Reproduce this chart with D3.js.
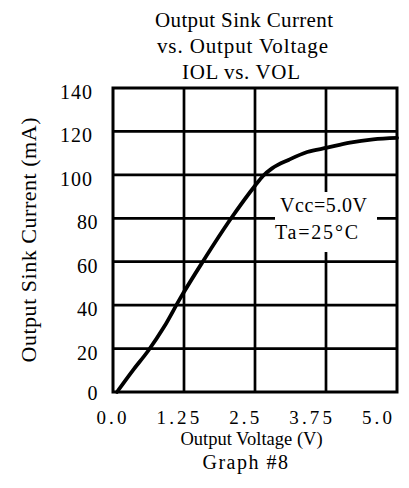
<!DOCTYPE html>
<html>
<head>
<meta charset="utf-8">
<script src="https://cdn.jsdelivr.net/npm/d3@7"></script>
<style>
  html, body { margin: 0; padding: 0; background: #fff; }
  svg { display: block; }
  text { font-family: "Liberation Serif", "Times New Roman", serif; fill: #000; }
</style>
</head>
<body>
<svg id="chart" width="409" height="488"></svg>
<script>
// ---- data ----
const voltage = [0.07, 0.35, 0.62, 0.9, 1.18, 1.58, 2.08, 2.5, 2.64, 2.8, 3.1, 3.42, 3.77, 4.17, 4.58, 5.0];
const current = [0, 10, 19, 30, 43, 60, 80, 95, 99.5, 103, 107, 110.5, 112.5, 114.8, 116.3, 117];
const xTicks = [0, 1.25, 2.5, 3.75, 5.0];
const xTickLabels = ["0.0", "1.25", "2.5", "3.75", "5.0"];
const yTicks = [0, 20, 40, 60, 80, 100, 120, 140];
const titleLines = ["Output Sink Current", "vs. Output Voltage", "IOL vs. VOL"];
const xAxisTitle = "Output Voltage (V)";
const yAxisTitle = "Output Sink Current (mA)";
const footnote = "Graph #8";
const annotation = ["Vcc=5.0V", "Ta=25°C"];

// ---- layout ----
const svg = d3.select("#chart");
const plot = { left: 113, right: 397, top: 88, bottom: 392 };
const x = d3.scaleLinear().domain([0, 5]).range([plot.left, plot.right]);
const y = d3.scaleLinear().domain([0, 140]).range([plot.bottom, plot.top]);
// tick labels in the reference are spread slightly narrower than the grid
const xLab = d3.scaleLinear().domain([0, 5]).range([111.5, 377]);

function txt(g, s, cx, base, size, len, anchor) {
  const t = g.append("text")
    .attr("x", cx).attr("y", base)
    .attr("font-size", size)
    .attr("text-anchor", anchor || "middle")
    .text(s);
  if (len) t.attr("textLength", len).attr("lengthAdjust", "spacing");
  return t;
}

// title
const titleBase = [27, 53, 79];
const titleLen = [178, 171, 118];
const titleCx = [244, 242.5, 241];
titleLines.forEach((s, i) => txt(svg, s, titleCx[i], titleBase[i], 21, titleLen[i]));

// grid
const grid = svg.append("g").attr("stroke", "#000").attr("stroke-width", 2.7);
grid.selectAll("line.v").data(xTicks.slice(1, -1)).join("line")
  .attr("x1", d => x(d)).attr("x2", d => x(d))
  .attr("y1", plot.top).attr("y2", plot.bottom);
grid.selectAll("line.h").data(yTicks.slice(1, -1)).join("line")
  .attr("x1", plot.left).attr("x2", plot.right)
  .attr("y1", d => y(d)).attr("y2", d => y(d));

// annotation box (white, hides grid)
svg.append("rect")
  .attr("x", 275).attr("y", 192).attr("width", 102).attr("height", 60)
  .attr("fill", "#fff");
txt(svg, annotation[0], 323.5, 212, 20, 87);
txt(svg, annotation[1], 316.5, 239, 20, 83);

// frame
svg.append("rect")
  .attr("x", plot.left).attr("y", plot.top)
  .attr("width", plot.right - plot.left).attr("height", plot.bottom - plot.top)
  .attr("fill", "none").attr("stroke", "#000").attr("stroke-width", 3);

// curve
const pts = voltage.map((v, i) => [v, current[i]]);
svg.append("path")
  .datum(pts)
  .attr("fill", "none").attr("stroke", "#000").attr("stroke-width", 3.8)
  .attr("stroke-linejoin", "round").attr("stroke-linecap", "round")
  .attr("d", d3.line().x(d => x(d[0])).y(d => y(d[1])).curve(d3.curveMonotoneX));

// y tick labels
svg.append("g").selectAll("text").data(yTicks).join("text")
  .attr("x", d => d >= 100 ? 93 : 98)
  .attr("y", d => y(d) + (d === 0 ? 8 : 11))
  .attr("text-anchor", "end")
  .attr("font-size", 20)
  .attr("letter-spacing", d => d >= 100 ? 1 : 0.5)
  .text(d => String(d));

// x tick labels
svg.append("g").selectAll("text").data(xTicks).join("text")
  .attr("x", d => xLab(d) + 1.6)
  .attr("y", 424)
  .attr("text-anchor", "middle")
  .attr("font-size", 19)
  .attr("letter-spacing", 3.2)
  .text((d, i) => xTickLabels[i]);

// axis titles
txt(svg, xAxisTitle, 251.5, 445, 18.5);
txt(svg, footnote, 246, 469, 20).attr("letter-spacing", 1.5);
txt(svg, yAxisTitle, 0, 0, 22, 245)
  .attr("transform", "translate(36,240) rotate(-90)");
</script>
</body>
</html>
